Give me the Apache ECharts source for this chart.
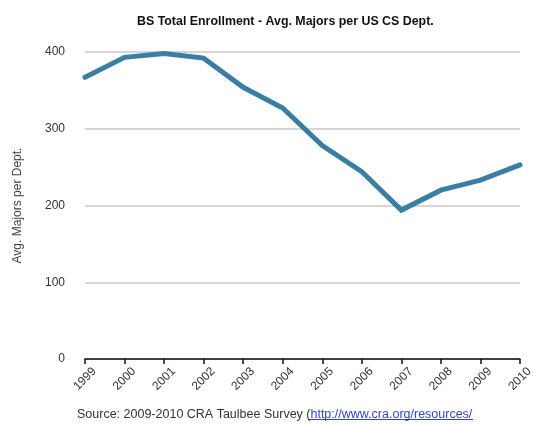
<!DOCTYPE html>
<html>
<head>
<meta charset="utf-8">
<script src="https://cdn.jsdelivr.net/npm/echarts@6/dist/echarts.min.js"></script>
<style>html,body{margin:0;padding:0;background:#fff}#c{width:533px;height:425px}</style>
</head>
<body>
<div id="c"></div>
<script>
const years = ['1999','2000','2001','2002','2003','2004','2005','2006','2007','2008','2009','2010'];
const majors = [367, 393, 398, 392, 354, 327, 278, 244, 194, 220, 233, 253];
const yTicks = [0, 100, 200, 300, 400];

const chart = echarts.init(document.getElementById('c'), null, {renderer: 'canvas'});
const font = 'Liberation Sans, Arial, Helvetica, sans-serif';
chart.setOption({
  backgroundColor: '#fff',
  animation: false,
  textStyle: {fontFamily: font},
  title: [{
    text: 'BS Total Enrollment - Avg. Majors per US CS Dept.',
    left: 132, top: 11,
    textStyle: {fontSize: 12.4, fontWeight: 'bold', color: '#111', fontFamily: font}
  }, {
    text: '{a|Source: 2009-2010 CRA Taulbee Survey (}{b|http://www.cra.org/resources/}',
    left: 72, top: 403,
    textStyle: {fontFamily: font, fontWeight: 'normal', rich: {
      a: {fontSize: 12.5, color: '#333', fontWeight: 'normal', fontFamily: font},
      b: {fontSize: 12.5, color: '#3344cc', fontWeight: 'normal', fontFamily: font}
    }}
  }],
  graphic: [{
    type: 'line', shape: {x1: 308, y1: 419.5, x2: 473, y2: 419.5},
    style: {stroke: '#3344cc', lineWidth: 1}
  }],
  grid: {left: 85, right: 13, top: 52, bottom: 66, containLabel: false, outerBoundsMode: 'none'},
  xAxis: {
    type: 'category', data: years, boundaryGap: false,
    axisLine: {lineStyle: {color: '#111', width: 1.5}},
    axisTick: {show: true, inside: false, length: 5, lineStyle: {color: '#111', width: 1.5}},
    axisLabel: {rotate: 45, fontSize: 12, color: '#333', margin: 20, align: 'center', verticalAlign: 'middle', fontFamily: font},
    splitLine: {show: false}
  },
  yAxis: {
    type: 'value', min: yTicks[0], max: yTicks[yTicks.length - 1], interval: 100,
    name: 'Avg. Majors per Dept.', nameLocation: 'middle', nameGap: 61, nameRotate: 90,
    nameTextStyle: {fontSize: 12, color: '#444', fontFamily: font},
    axisLine: {show: false}, axisTick: {show: false},
    axisLabel: {fontSize: 12, color: '#333', margin: 20, fontFamily: font},
    splitLine: {lineStyle: {color: '#c8c8c8', width: 1.5}}
  },
  series: [{
    type: 'line', data: majors, showSymbol: false, symbol: 'none',
    lineStyle: {color: '#3b7ea3', width: 5, cap: 'round', join: 'miter'},
    itemStyle: {color: '#3b7ea3'}
  }]
});
</script>
</body>
</html>
